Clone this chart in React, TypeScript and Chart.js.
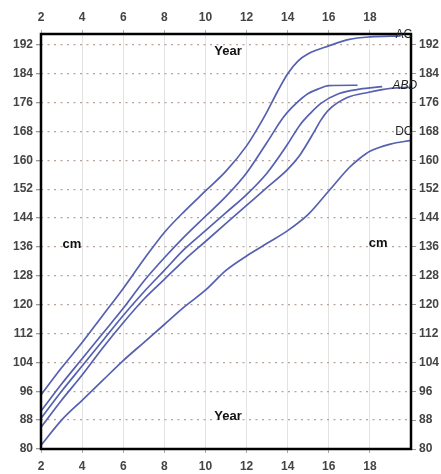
import { useEffect, useRef } from 'react';
import { Chart, registerables } from 'chart.js';

Chart.register(...registerables);

// ---- data ----
const xTickValues = [2, 4, 6, 8, 10, 12, 14, 16, 18];
const yTickValues = [80, 88, 96, 104, 112, 120, 128, 136, 144, 152, 160, 168, 176, 184, 192];

const acAges = [2, 3, 4, 5, 6, 7, 8, 9, 10, 11, 12, 12.5, 13, 13.5, 14, 14.5, 15, 16, 17, 18, 19.5];
const acHeights = [95, 102.5, 109.5, 117, 124.5, 132.5, 140, 146, 151.5, 157, 164, 168.5, 173.5, 179, 184, 187.5, 189.5, 191.7, 193.5, 194.2, 194.5];

const s2Ages = [2, 3, 4, 5, 6, 7, 8, 9, 10, 11, 12, 13, 13.8, 14.4, 15, 15.5, 16, 17.4];
const s2Heights = [90.5, 98, 105, 112, 119, 126.5, 133, 139, 144.5, 150, 156.5, 165, 172, 175.7, 178.5, 179.8, 180.7, 180.8];

const s3Ages = [2, 3, 4, 5, 6, 7, 8, 9, 10, 11, 12, 13, 14, 14.6, 15.1, 15.6, 16.5, 17.5, 18.6];
const s3Heights = [88.5, 96, 103, 110, 117, 123.5, 129.5, 135.5, 140.5, 145.5, 150.5, 156.5, 164.5, 169.8, 173, 175.7, 178.5, 179.7, 180.4];

const s4Ages = [2, 3, 4, 5, 6, 7, 8, 9, 10, 11, 12, 13, 14, 14.6, 15.3, 15.6, 16, 16.9, 17.9, 19.1, 19.9];
const s4Heights = [86, 93.5, 100.5, 108, 115, 121.5, 127, 132.5, 137.5, 142.5, 147.5, 152.5, 157.5, 161.5, 168, 171, 174, 177.4, 178.8, 180, 180.2];

const dcAges = [2, 3, 4, 5, 6, 7, 8, 9, 10, 11, 12, 13, 14, 15, 16, 17, 17.5, 18, 19, 20];
const dcHeights = [81, 88, 93.5, 99, 104.5, 109.5, 114.5, 119.5, 124, 129.5, 133.5, 137, 140.5, 145, 151.5, 158, 160.5, 162.5, 164.5, 165.5];

const seriesAges = [acAges, s2Ages, s3Ages, s4Ages, dcAges];
const seriesHeights = [acHeights, s2Heights, s3Heights, s4Heights, dcHeights];
const seriesNames = ['AC', 'S2', 'S3', 'S4', 'DC'];

// text annotations: [text, age, height]
const curveLabels: [string, number, number][] = [
  ['AC', 19.65, 194.8],
  ['ABD', 19.7, 180.7],
  ['DC', 19.65, 167.8],
];
const axisWords: [string, number, number][] = [
  ['Year', 11.1, 190.3],
  ['Year', 11.1, 89.1],
  ['cm', 3.5, 136.8],
  ['cm', 18.4, 137],
];

const LINE = '#5560b0';
const TICK_FONT = { family: 'Liberation Sans, Arial, sans-serif', size: 12, weight: 'bold' as const };

const framePlugin = {
  id: 'frameAndText',
  afterDatasetsDraw(chart: any) {
    const { ctx, chartArea: a, scales } = chart;
    ctx.save();
    ctx.strokeStyle = '#000';
    ctx.lineWidth = 2.5;
    ctx.strokeRect(a.left, a.top, a.right - a.left, a.bottom - a.top);

    const xs = scales.x;
    const ys = scales.y;
    ctx.textAlign = 'center';
    ctx.textBaseline = 'middle';
    ctx.fillStyle = '#111';
    ctx.font = 'bold 13px "Liberation Sans", Arial, sans-serif';
    for (const [t, ax, ay] of axisWords) {
      ctx.fillText(t, xs.getPixelForValue(ax), ys.getPixelForValue(ay));
    }
    ctx.fillStyle = '#222';
    for (const [t, ax, ay] of curveLabels) {
      ctx.font = t === 'ABD' ? 'italic 12px "Liberation Sans", Arial, sans-serif' : '12px "Liberation Sans", Arial, sans-serif';
      ctx.fillText(t, xs.getPixelForValue(ax), ys.getPixelForValue(ay));
    }
    ctx.restore();
  },
};

export default function App() {
  const ref = useRef<HTMLCanvasElement | null>(null);

  useEffect(() => {
    document.body.style.margin = '0';
    const canvas = ref.current;
    if (!canvas) return;

    const xTicksFn = (s: any) => {
      s.ticks = xTickValues.map((v) => ({ value: v }));
    };
    const yTicksFn = (s: any) => {
      s.ticks = yTickValues.map((v) => ({ value: v }));
    };

    const chart = new Chart(canvas, {
      type: 'line',
      data: {
        datasets: seriesAges.map((ages, i) => ({
          label: seriesNames[i],
          data: ages.map((a, j) => ({ x: a, y: seriesHeights[i][j] })),
          borderColor: LINE,
          borderWidth: 1.7,
          pointRadius: 0,
          fill: false,
          cubicInterpolationMode: 'monotone' as const,
          xAxisID: 'x',
          yAxisID: 'y',
        })),
      },
      options: {
        responsive: false,
        animation: false,
        layout: { padding: 0 },
        plugins: { legend: { display: false }, tooltip: { enabled: false } },
        scales: {
          x: {
            type: 'linear',
            position: 'bottom',
            min: 2,
            max: 20,
            afterBuildTicks: xTicksFn,
            afterFit: (s: any) => { s.height = 25; },
            grid: { color: '#e3e3e3', lineWidth: 1, drawTicks: true, tickLength: 4, tickColor: '#aaa' },
            border: { display: false },
            ticks: { font: TICK_FONT, color: '#444', padding: 6, maxRotation: 0, autoSkip: false },
          },
          x2: {
            type: 'linear',
            position: 'top',
            min: 2,
            max: 20,
            afterBuildTicks: xTicksFn,
            afterFit: (s: any) => { s.height = 34; },
            grid: { drawOnChartArea: false, drawTicks: true, tickLength: 4, tickColor: '#aaa' },
            border: { display: false },
            ticks: { font: TICK_FONT, color: '#444', padding: 5, maxRotation: 0, autoSkip: false },
          },
          y: {
            type: 'linear',
            position: 'left',
            min: 80,
            max: 195,
            afterBuildTicks: yTicksFn,
            afterFit: (s: any) => { s.width = 41; },
            grid: { color: '#b8a39b', lineWidth: 1.3, drawTicks: true, tickLength: 5, tickColor: '#999' },
            border: { display: false, dash: [2, 4.5] },
            ticks: { font: TICK_FONT, color: '#444', padding: 3, autoSkip: false },
          },
          y2: {
            type: 'linear',
            position: 'right',
            min: 80,
            max: 195,
            afterBuildTicks: yTicksFn,
            afterFit: (s: any) => { s.width = 30; },
            grid: { drawOnChartArea: false, drawTicks: true, tickLength: 5, tickColor: '#999' },
            border: { display: false },
            ticks: { font: TICK_FONT, color: '#444', padding: 3, autoSkip: false },
          },
        },
      },
      plugins: [framePlugin],
    });

    return () => chart.destroy();
  }, []);

  return (
    <div style={{ width: 441, height: 474 }}>
      <canvas ref={ref} width={441} height={474} style={{ display: 'block' }} />
    </div>
  );
}
